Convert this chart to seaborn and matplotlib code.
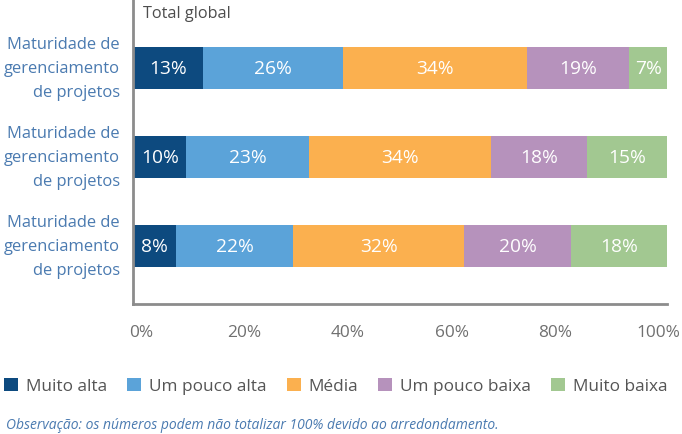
import matplotlib
matplotlib.use("Agg")
import matplotlib.pyplot as plt
import matplotlib.transforms as mtransforms
import seaborn as sns
import pandas as pd
import numpy as np
from matplotlib.patches import Patch

sns.set_theme(style="white")
plt.rcParams['font.family'] = ['Open Sans', 'DejaVu Sans']

rows = ["Maturidade de\ngerenciamento\nde projetos"] * 3
row_ids = ["r1", "r2", "r3"]
series = ["Muito alta", "Um pouco alta", "Média", "Um pouco baixa", "Muito baixa"]
muito_alta = [13, 10, 8]
um_pouco_alta = [26, 23, 22]
media = [34, 34, 32]
um_pouco_baixa = [19, 18, 20]
muito_baixa = [7, 15, 18]
colors = ["#0D4A7F", "#5BA3D9", "#FBB04F", "#B692BC", "#A2C891"]
xticks = [0, 20, 40, 60, 80, 100]
xticklabels = ["0%", "20%", "40%", "60%", "80%", "100%"]

vals = np.array([muito_alta, um_pouco_alta, media, um_pouco_baixa, muito_baixa], dtype=float)
shares = vals / vals.sum(axis=0) * 100
cum = np.cumsum(shares, axis=0)

W, H = 682, 435
fig = plt.figure(figsize=(W/100, H/100), dpi=100)
ax = fig.add_axes([133/W, 1 - 305/H, (667-133)/W, 305/H])

for i in range(len(series) - 1, -1, -1):
    df = pd.DataFrame({"row": row_ids, "value": cum[i]})
    sns.barplot(data=df, x="value", y="row", orient="h", color=colors[i],
                width=0.47, saturation=1, ax=ax, order=row_ids, linewidth=0, edgecolor="none")

for i in range(len(series)):
    for j in range(3):
        start = cum[i, j] - shares[i, j]
        ax.text(start + shares[i, j] / 2, j, f"{int(vals[i, j])}%", ha="center", va="center",
                color="white", fontsize=13.8)

ax.set_xlim(0, 100)
ax.set_ylim(2.65, -0.775)
ax.set_xlabel("")
ax.set_ylabel("")
ax.set_xticks(xticks)
ax.set_xticklabels([])
ax.set_yticks(range(3))
ax.set_yticklabels([])
ax.tick_params(axis="both", length=0)
for s in ["top", "right"]:
    ax.spines[s].set_visible(False)
for s in ["left", "bottom"]:
    ax.spines[s].set_color("#8C8C8C")
    ax.spines[s].set_linewidth(2)

# x tick labels (slightly compressed spacing like the reference)
xt = ax.get_xaxis_transform()
for k, (tv, tl) in enumerate(zip(xticks, xticklabels)):
    dx = (141 + 103.5 * k) - (133 + 534 * tv / 100)
    tr = xt + mtransforms.ScaledTranslation(dx / 100, -28 / 100, fig.dpi_scale_trans)
    ax.text(tv, 0, tl, transform=tr, ha="center", va="center", color="#707070", fontsize=12.4)

# y category labels
yt = ax.get_yaxis_transform()
for j, lab in enumerate(rows):
    tr = yt + mtransforms.ScaledTranslation(-13 / 100, 0, fig.dpi_scale_trans)
    ax.text(0, j, lab, transform=tr, ha="right", va="center", color="#4A7AB0",
            fontsize=11.9, linespacing=1.68, multialignment="right")

ax.text(10/534*100, -0.775 + 14/89, "Total global", color="#4D4D4D", fontsize=11.7, va="center", ha="left")

handles = [Patch(facecolor=c, edgecolor="none", label=s) for c, s in zip(colors, series)]
fig.legend(handles=handles, loc="center left", bbox_to_anchor=(0.0, 1 - 387/H), ncol=5,
           frameon=False, fontsize=12.4, handlelength=0.81, handleheight=0.81,
           handletextpad=0.47, columnspacing=1.15, labelcolor="#555555", borderaxespad=0, borderpad=0.25)

fig.text(6/W, 1 - 426/H, "Observação: os números podem não totalizar 100% devido ao arredondamento.",
         color="#4A7AB0", fontsize=10.0, style="italic", va="center", ha="left")

fig.savefig("out.png", dpi=100)
